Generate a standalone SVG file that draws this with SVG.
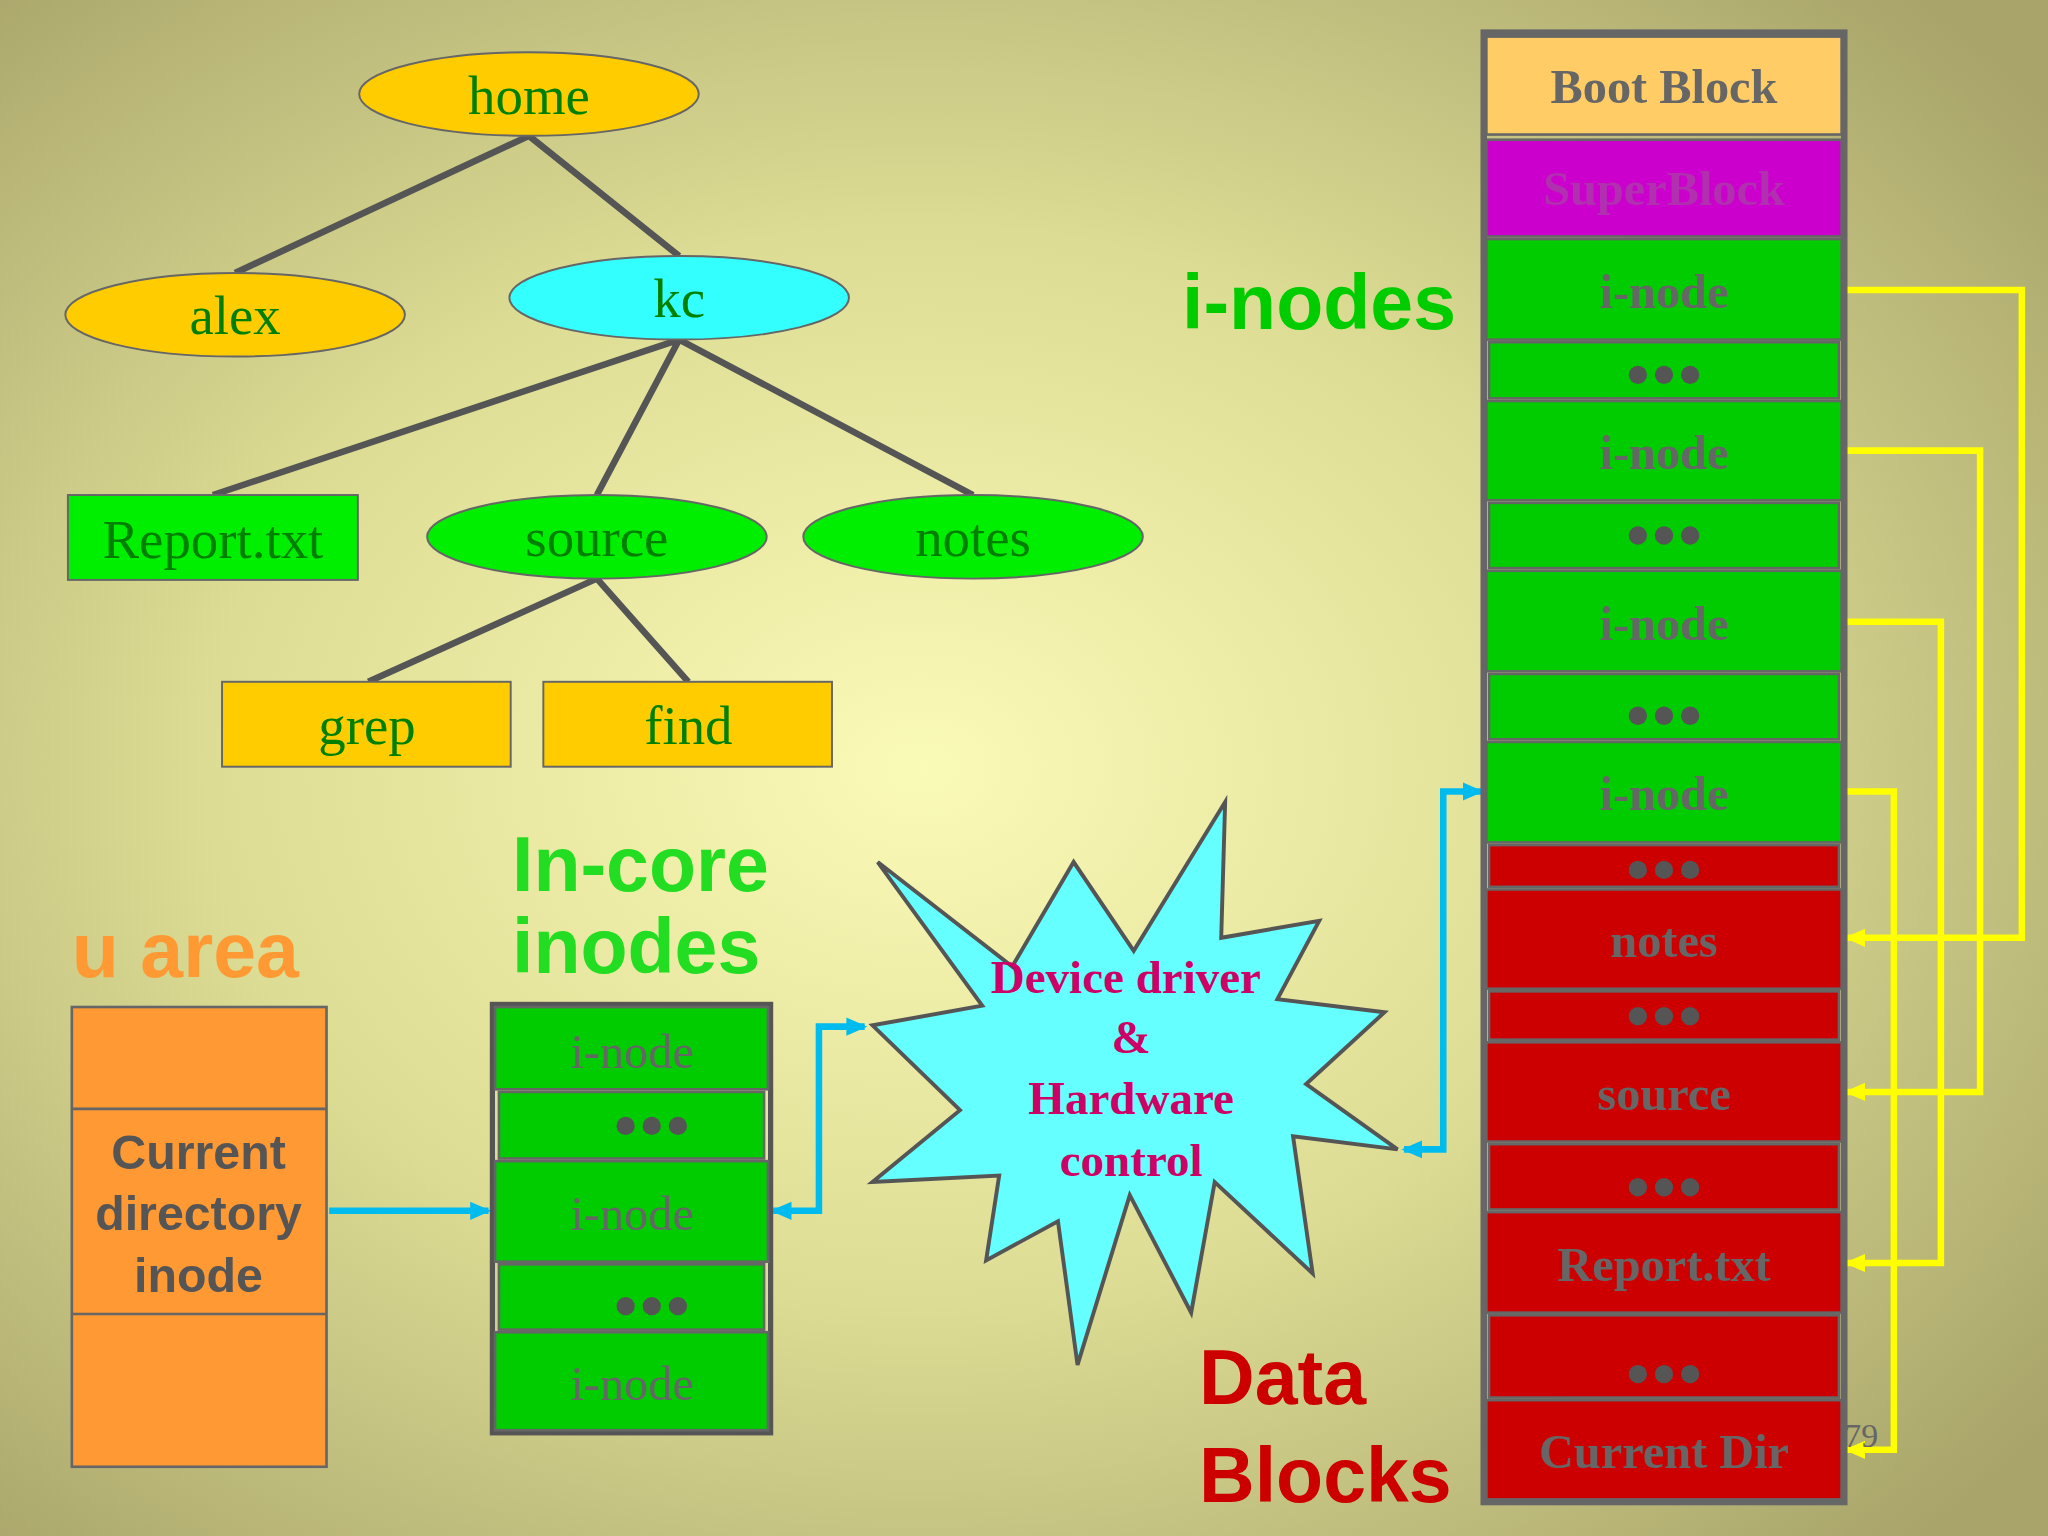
<svg xmlns="http://www.w3.org/2000/svg" width="2048" height="1536" viewBox="0 0 2048 1536">
<defs>
<radialGradient id="bg" cx="0.45" cy="0.5" r="0.7">
<stop offset="0" stop-color="#fbfbb8"/><stop offset="0.5" stop-color="#dcdc94"/><stop offset="1" stop-color="#a8a46a"/>
</radialGradient>
<marker id="ya" markerUnits="userSpaceOnUse" markerWidth="16" markerHeight="16" refX="14" refY="8" orient="auto"><path d="M0,1 L16,8 L0,15 Z" fill="#ffff00"/></marker>
<marker id="ba" markerUnits="userSpaceOnUse" markerWidth="16" markerHeight="16" refX="14" refY="8" orient="auto-start-reverse"><path d="M0,1 L16,8 L0,15 Z" fill="#00bbee"/></marker>
<style>
.el{stroke:#666;stroke-width:1.5}
.tt{font-family:"Liberation Serif",serif;font-size:42px;fill:#008000;text-anchor:middle}
.tl{stroke:#555;stroke-width:5;fill:none}
.blk{stroke:#666;stroke-width:2}
.bt{font-family:"Liberation Serif",serif;font-weight:bold;font-size:37px;fill:#666;text-anchor:middle}
.it{font-family:"Liberation Serif",serif;font-size:37px;fill:#666;text-anchor:middle}
.big{font-family:"Liberation Sans",sans-serif;font-weight:bold;font-size:59px}
.yl{stroke:#ffff00;stroke-width:5;fill:none;marker-end:url(#ya)}
.bl{stroke:#00bbee;stroke-width:5;fill:none}
.dot{fill:#555}
</style>
</defs>
<rect width="2048" height="1536" fill="url(#bg)"/>
<g transform="scale(1.30612)">
<g id="connectors">
<path class="tl" d="M405,104 L180,209 M405,104 L520,196 M520,260 L163,379 M520,260 L457,379 M520,260 L745,379 M457,443 L282,522 M457,443 L527,522"/>
<path class="yl" d="M1410,222 H1548 V718 H1414"/>
<path class="yl" d="M1410,345 H1516 V836 H1414"/>
<path class="yl" d="M1410,476 H1486 V967 H1414"/>
<path class="yl" d="M1410,606 H1450 V1110 H1414"/>
<path class="bl" d="M252,927 H374" marker-end="url(#ba)"/>
<path class="bl" d="M1075,880 H1105 V606 H1134" marker-start="url(#ba)" marker-end="url(#ba)"/>
<path class="bl" d="M592,927 H627 V786 H662" marker-start="url(#ba)" marker-end="url(#ba)"/>
</g>
<g id="home"><ellipse class="el" cx="405" cy="72" rx="130" ry="32" fill="#ffcc00"/><text class="tt" x="405" y="87">home</text></g>
<g id="alex"><ellipse class="el" cx="180" cy="241" rx="130" ry="32" fill="#ffcc00"/><text class="tt" x="180" y="256">alex</text></g>
<g id="kc"><ellipse class="el" cx="520" cy="228" rx="130" ry="32" fill="#33ffff"/><text class="tt" x="520" y="243">kc</text></g>
<g id="report"><rect class="el" x="52" y="379" width="222" height="65" fill="#00ee00"/><text class="tt" x="163" y="427">Report.txt</text></g>
<g id="source"><ellipse class="el" cx="457" cy="411" rx="130" ry="32" fill="#00ee00"/><text class="tt" x="457" y="426">source</text></g>
<g id="notes"><ellipse class="el" cx="745" cy="411" rx="130" ry="32" fill="#00ee00"/><text class="tt" x="745" y="426">notes</text></g>
<g id="grep"><rect class="el" x="170" y="522" width="221" height="65" fill="#ffcc00"/><text class="tt" x="281" y="570">grep</text></g>
<g id="find"><rect class="el" x="416" y="522" width="221" height="65" fill="#ffcc00"/><text class="tt" x="527" y="570">find</text></g>

<g id="disk">
<rect x="1136" y="25" width="276" height="1125" fill="none" stroke="#666" stroke-width="5"/>
<rect class="blk" x="1138" y="28" width="272" height="75" fill="#ffcc66"/><text class="bt" x="1274" y="79">Boot Block</text>
<rect class="blk" x="1138" y="107" width="272" height="74" fill="#cc00cc"/><text class="bt" x="1274" y="157" style="fill:#b030b0">SuperBlock</text>
<g fill="#00cc00">
<rect class="blk" x="1138" y="183" width="272" height="77"/>
<rect class="blk" x="1140" y="262" width="268" height="43"/>
<rect class="blk" x="1138" y="307" width="272" height="76"/>
<rect class="blk" x="1140" y="385" width="268" height="50"/>
<rect class="blk" x="1138" y="437" width="272" height="77"/>
<rect class="blk" x="1140" y="516" width="268" height="50"/>
<rect class="blk" x="1138" y="568" width="272" height="77"/>
</g>
<g fill="#cc0000">
<rect class="blk" x="1140" y="647" width="268" height="32"/>
<rect class="blk" x="1138" y="681" width="272" height="76"/>
<rect class="blk" x="1140" y="759" width="268" height="37"/>
<rect class="blk" x="1138" y="798" width="272" height="76"/>
<rect class="blk" x="1140" y="876" width="268" height="50"/>
<rect class="blk" x="1138" y="928" width="272" height="77"/>
<rect class="blk" x="1140" y="1007" width="268" height="63"/>
<rect class="blk" x="1138" y="1072" width="272" height="76"/>
</g>
<text class="bt" x="1274" y="236">i-node</text>
<text class="bt" x="1274" y="359">i-node</text>
<text class="bt" x="1274" y="490">i-node</text>
<text class="bt" x="1274" y="620">i-node</text>
<text class="bt" x="1274" y="733">notes</text>
<text class="bt" x="1274" y="850">source</text>
<text class="bt" x="1274" y="981">Report.txt</text>
<text class="bt" x="1274" y="1124">Current Dir</text>
<g class="dot">
<circle cx="1254" cy="287" r="7"/><circle cx="1274" cy="287" r="7"/><circle cx="1294" cy="287" r="7"/>
<circle cx="1254" cy="410" r="7"/><circle cx="1274" cy="410" r="7"/><circle cx="1294" cy="410" r="7"/>
<circle cx="1254" cy="548" r="7"/><circle cx="1274" cy="548" r="7"/><circle cx="1294" cy="548" r="7"/>
<circle cx="1254" cy="666" r="7"/><circle cx="1274" cy="666" r="7"/><circle cx="1294" cy="666" r="7"/>
<circle cx="1254" cy="778" r="7"/><circle cx="1274" cy="778" r="7"/><circle cx="1294" cy="778" r="7"/>
<circle cx="1254" cy="909" r="7"/><circle cx="1274" cy="909" r="7"/><circle cx="1294" cy="909" r="7"/>
<circle cx="1254" cy="1052" r="7"/><circle cx="1274" cy="1052" r="7"/><circle cx="1294" cy="1052" r="7"/>
</g>
</g>
<text class="big" x="905" y="252" fill="#00cc00">i-nodes</text>
<text class="big" x="918" y="1075" fill="#cc0000">Data</text>
<text class="big" x="918" y="1150" fill="#cc0000">Blocks</text>
<text x="1412" y="1108" font-family="Liberation Serif,serif" font-size="26" fill="#666">79</text>

<g id="driver">
<polygon points="672,660 775,740 822,660 868,728 938,614 935,718 1010,705 978,765 1060,775 1000,830 1070,880 990,870 1005,975 930,905 912,1005 865,915 825,1045 810,935 755,965 765,900 668,905 735,850 668,785 752,770" fill="#66ffff" stroke="#555" stroke-width="3"/>
<g font-family="Liberation Serif,serif" font-weight="bold" font-size="36" fill="#cc0066" text-anchor="middle">
<text x="862" y="760">Device driver</text><text x="866" y="806">&amp;</text><text x="866" y="853">Hardware</text><text x="866" y="900">control</text>
</g>
</g>

<g id="uarea">
<text class="big" x="55" y="748" fill="#ff9933">u area</text>
<rect x="55" y="771" width="195" height="352" fill="#ff9933" stroke="#666" stroke-width="2"/>
<path d="M55,849 H250 M55,1006 H250" stroke="#666" stroke-width="2"/>
<g font-family="Liberation Sans,sans-serif" font-weight="bold" font-size="37" fill="#555" text-anchor="middle">
<text x="152" y="895">Current</text><text x="152" y="942">directory</text><text x="152" y="989">inode</text>
</g>
</g>

<g id="incore">
<text class="big" x="392" y="682" fill="#22dd22">In-core</text>
<text class="big" x="392" y="745" fill="#22dd22">inodes</text>
<rect x="377" y="769" width="213" height="328" fill="none" stroke="#555" stroke-width="4"/>
<g fill="#00cc00">
<rect class="blk" x="379" y="771" width="209" height="63"/>
<rect class="blk" x="382" y="836" width="203" height="51"/>
<rect class="blk" x="379" y="889" width="209" height="77"/>
<rect class="blk" x="382" y="968" width="203" height="50"/>
<rect class="blk" x="379" y="1020" width="209" height="75"/>
</g>
<text class="it" x="484" y="818">i-node</text>
<text class="it" x="484" y="942">i-node</text>
<text class="it" x="484" y="1072">i-node</text>
<g class="dot">
<circle cx="479" cy="862" r="7"/><circle cx="499" cy="862" r="7"/><circle cx="519" cy="862" r="7"/>
<circle cx="479" cy="1000" r="7"/><circle cx="499" cy="1000" r="7"/><circle cx="519" cy="1000" r="7"/>
</g>
</g>
</g>
</svg>
